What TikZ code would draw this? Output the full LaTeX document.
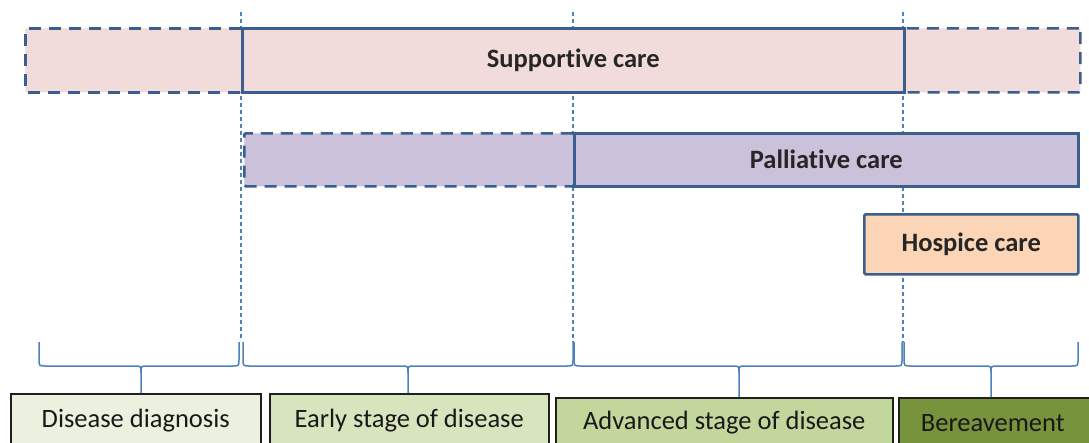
\documentclass[tikz,border=0pt]{standalone}
\usepackage{fontspec}
\setmainfont[Ligatures=NoCommon]{Carlito}
\definecolor{boxblue}{HTML}{3A5E8D}
\definecolor{lineblue}{HTML}{4F81BD}
\definecolor{supfill}{HTML}{F2DCDB}
\definecolor{palfill}{HTML}{CCC1DA}
\definecolor{hosfill}{HTML}{FBD5B5}
\definecolor{diagfill}{HTML}{EBF1DE}
\definecolor{earlyfill}{HTML}{D7E4BD}
\definecolor{advfill}{HTML}{C3D69B}
\definecolor{berfill}{HTML}{77933C}
\definecolor{txt}{HTML}{262626}
\begin{document}
\begin{tikzpicture}[x=1pt,y=-1pt,
  carebox/.style={draw=boxblue, line width=2.5pt, inner sep=0pt, anchor=north west,
    font=\fontsize{26.5}{30}\selectfont\bfseries, text=txt},
  dashbox/.style={carebox, dash pattern=on 12pt off 8pt, rounded corners=1.5pt},
  stagebox/.style={draw=black!88, line width=1.5pt, inner sep=0pt, anchor=north west,
    font=\fontsize{26.5}{30}\selectfont, text=black!90},
  vline/.style={draw=lineblue, line width=1.2pt, dash pattern=on 4pt off 3pt},
  bracepath/.style={draw=lineblue, line width=1.5pt}]
\clip (0,0) rectangle (1089,442);
\fill[white] (0,0) rectangle (1089,442);
% vertical dashed lines (behind the boxes)
\coordinate (v1t) at (241,12); \coordinate (v1b) at (241,340);
\coordinate (v2t) at (573,12); \coordinate (v2b) at (573,342);
\coordinate (v3t) at (903,12); \coordinate (v3b) at (903,342);
\draw[vline] (v1t) -- (v1b);
\draw[vline] (v2t) -- (v2b);
\draw[vline] (v3t) -- (v3b);
% supportive care
\node[dashbox, fill=supfill, minimum width=217pt, minimum height=64pt] (supL) at (24,27) {};
\node[dashbox, fill=supfill, minimum width=176pt, minimum height=64pt] (supR) at (903,27) {};
\node[carebox, fill=supfill, minimum width=662pt, minimum height=64pt] (sup) at (241,27) {Supportive care};
% palliative care
\node[dashbox, fill=palfill, minimum width=330pt, minimum height=53pt] (palL) at (243,132) {};
\node[carebox, fill=palfill, minimum width=504pt, minimum height=53pt] (pal) at (573,132) {Palliative care};
% hospice care
\node[carebox, fill=hosfill, minimum width=214pt, minimum height=60pt, rounded corners=1.5pt] (hos) at (863,213) {Hospice care};
% stage boxes
\node[stagebox, fill=diagfill, minimum width=250pt, minimum height=54pt] (diag) at (10,393) {Disease diagnosis};
\node[stagebox, fill=earlyfill, minimum width=279pt, minimum height=54pt] (early) at (269,393) {Early stage of disease};
\node[stagebox, fill=advfill, minimum width=337pt, minimum height=50pt] (adv) at (555,397) {Advanced stage of disease};
\node[stagebox, fill=berfill, minimum width=200pt, minimum height=50pt] (ber) at (898,397) {\hspace*{-6pt}Bereavement\hspace*{6pt}};
% braces
\foreach \xa/\xb/\t/\bot in {39/239/141/393, 243/573/408/393, 574/902/739/397, 904/1078/991/397}{
  \draw[bracepath] (\xa,342) -- (\xa,359) .. controls (\xa,366) .. (\xa+7,366)
    -- (\t-6,366) .. controls (\t,366) .. (\t,373) -- (\t,\bot);
  \draw[bracepath] (\t,373) .. controls (\t,366) .. (\t+6,366)
    -- (\xb-7,366) .. controls (\xb,366) .. (\xb,359) -- (\xb,342);
}
\end{tikzpicture}
\end{document}
